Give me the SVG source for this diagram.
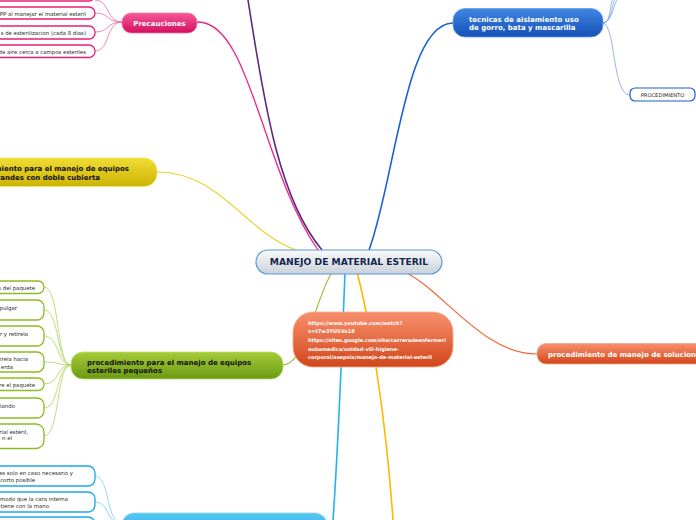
<svg xmlns="http://www.w3.org/2000/svg" width="696" height="520" viewBox="0 0 696 520">
<defs>
<linearGradient id="gCenter" x1="0" y1="0" x2="0" y2="1"><stop offset="0" stop-color="#fafbfc"/><stop offset="1" stop-color="#c9d1da"/></linearGradient>
<linearGradient id="gPink" x1="0" y1="0" x2="0" y2="1"><stop offset="0" stop-color="#f4599a"/><stop offset="1" stop-color="#d40f5e"/></linearGradient>
<linearGradient id="gBlue" x1="0" y1="0" x2="0" y2="1"><stop offset="0" stop-color="#3f86e4"/><stop offset="1" stop-color="#1550b6"/></linearGradient>
<linearGradient id="gYellow" x1="0" y1="0" x2="0" y2="1"><stop offset="0" stop-color="#f2dc34"/><stop offset="1" stop-color="#ccb404"/></linearGradient>
<linearGradient id="gGreen" x1="0" y1="0" x2="0" y2="1"><stop offset="0" stop-color="#a6cc38"/><stop offset="1" stop-color="#6a9a12"/></linearGradient>
<linearGradient id="gOrange" x1="0" y1="0" x2="0" y2="1"><stop offset="0" stop-color="#f8906e"/><stop offset="1" stop-color="#d2461a"/></linearGradient>
<linearGradient id="gCyan" x1="0" y1="0" x2="0" y2="1"><stop offset="0" stop-color="#58c6f4"/><stop offset="1" stop-color="#22a8e6"/></linearGradient>
</defs>
<style>
.t{font-family:"DejaVu Sans",Verdana,sans-serif}
.b{font-weight:bold}
.w{fill:#ffffff}
.k{fill:#111111}
.s{font-size:5.4px;fill:#2a2a2a}
.c{fill:none}
.leaf{fill:#ffffff;stroke-width:1.3}
</style>
<rect width="696" height="520" fill="#ffffff"/>
<g id="connectors" class="c">
<path d="M248,0 C265,110 280,200 322,250" stroke="#5b2a82" stroke-width="1.6"/>
<path d="M197,22 C250,20 262,170 318,250" stroke="#f02280" stroke-width="1.3"/>
<path d="M157,172 C220,172 245,232 296,250" stroke="#e8d224" stroke-width="1.1"/>
<path d="M369,250 C395,180 405,23 453,23" stroke="#1a62d4" stroke-width="1.6"/>
<path d="M332,272 C315,300 305,365 283,365" stroke="#92c232" stroke-width="1.1"/>
<path d="M345,272 C342,350 338,450 333,520" stroke="#22b2f0" stroke-width="1.6"/>
<path d="M357,272 C372,330 386,420 393,520" stroke="#ffb800" stroke-width="1.6"/>
<path d="M400,270 C440,285 480,354 537,354" stroke="#f06232" stroke-width="1.1"/>
<g stroke="#f56aa6" stroke-width="0.8">
<path d="M122,22 C106,22 110,0 95,0"/>
<path d="M122,22 C106,22 110,13 95,13"/>
<path d="M122,22 C106,22 110,32 95,32"/>
<path d="M122,22 C106,22 110,51 95,51"/>
</g>
<g stroke="#aed45a" stroke-width="0.8">
<path d="M71,365 C56,365 60,287 44,287"/>
<path d="M71,365 C56,365 60,310 44,310"/>
<path d="M71,365 C56,365 60,336 44,336"/>
<path d="M71,365 C56,365 60,362 44,362"/>
<path d="M71,365 C56,365 60,384 44,384"/>
<path d="M71,365 C56,365 60,408 44,408"/>
<path d="M71,365 C56,365 60,436 44,436"/>
</g>
<g stroke="#7ccdf2" stroke-width="0.8">
<path d="M122,524 C106,524 110,476 95,476"/>
<path d="M122,524 C106,524 110,502 95,502"/>
<path d="M122,524 C106,524 110,522 95,522"/>
</g>
<g stroke="#6c98e4" stroke-width="0.7">
<path d="M603,23 C612,23 609,0 615,-6"/>
<path d="M603,23 C613,22 611,0 618,-6"/>
<path d="M603,23 C614,21 613,0 621,-6"/>
<path d="M603,23 C616,26 612,95 630,95"/>
</g>
</g>
<g id="center">
<rect x="256" y="250" width="186" height="24" rx="12" fill="url(#gCenter)" stroke="#5a9ad8" stroke-width="1.2"/>
<text x="349" y="265.3" text-anchor="middle" class="t b" font-size="9.2" fill="#17284e">MANEJO DE MATERIAL ESTERIL</text>
</g>
<g id="precauciones">
<rect x="122" y="13" width="75" height="20" rx="9" fill="url(#gPink)" stroke="#f27aaa" stroke-width="0.8"/>
<text x="159.5" y="25.5" text-anchor="middle" class="t b w" font-size="7">Precauciones</text>
</g>
<g id="prec-1"><rect x="-20" y="-12" width="115" height="13" rx="6" class="leaf" stroke="#e8207a"/></g>
<g id="prec-2"><rect x="-20" y="7" width="115" height="12" rx="6" class="leaf" stroke="#e8207a"/><text x="86" y="15.5" text-anchor="end" class="t s">EPP al manejar el material esteril</text></g>
<g id="prec-3"><rect x="-20" y="26" width="115" height="13" rx="6" class="leaf" stroke="#e8207a"/><text x="86" y="34.5" text-anchor="end" class="t s">s de esterilizacion (cada 8 dias)</text></g>
<g id="prec-4"><rect x="-20" y="45" width="115" height="12.5" rx="6" class="leaf" stroke="#e8207a"/><text x="86" y="53.5" text-anchor="end" class="t s">de aire cerca a campos esteriles</text></g>
<g id="tecnicas">
<rect x="453" y="8.5" width="150" height="28.5" rx="12" fill="url(#gBlue)" stroke="#6a9ee8" stroke-width="0.8"/>
<text class="t b w" font-size="7"><tspan x="469" y="21.5">tecnicas de aislamiento uso</tspan><tspan x="469" y="30">de gorro, bata y mascarilla</tspan></text>
</g>
<g id="procedimiento">
<rect x="630" y="88" width="65" height="13" rx="5" fill="#ffffff" stroke="#1a5fcc" stroke-width="1.2"/>
<text x="662.5" y="96.8" text-anchor="middle" class="t" font-size="5.2" fill="#222222">PROCEDIMIENTO</text>
</g>
<g id="grandes">
<rect x="-30" y="158" width="187" height="28.5" rx="13" fill="url(#gYellow)" stroke="#f0e060" stroke-width="0.8"/>
<text class="t b k" font-size="7" text-anchor="end"><tspan x="129" y="170.5">procedimiento para el manejo de equipos</tspan><tspan x="100" y="179.5">grandes con doble cubierta</tspan></text>
</g>
<g id="pequenos">
<rect x="71" y="352" width="212" height="27" rx="12" fill="url(#gGreen)" stroke="#bcdc70" stroke-width="0.8"/>
<text class="t b k" font-size="7"><tspan x="87" y="364.5">procedimiento para el manejo de equipos</tspan><tspan x="87" y="372.5">esteriles pequeños</tspan></text>
</g>
<g id="peq-1"><rect x="-20" y="281" width="64" height="12.5" rx="6" class="leaf" stroke="#8cbc22"/><text x="35" y="289.8" text-anchor="end" class="t s">s del paquete</text></g>
<g id="peq-2"><rect x="-20" y="300" width="64" height="20" rx="7" class="leaf" stroke="#8cbc22"/><text x="17" y="309.8" text-anchor="end" class="t s">pulgar</text></g>
<g id="peq-3"><rect x="-20" y="326" width="64" height="20" rx="7" class="leaf" stroke="#8cbc22"/><text x="28" y="335.8" text-anchor="end" class="t s">r y retírela</text></g>
<g id="peq-4"><rect x="-20" y="352" width="64" height="20" rx="7" class="leaf" stroke="#8cbc22"/><text class="t s" text-anchor="end"><tspan x="28" y="360.5">irela hacia</tspan><tspan x="13" y="368.5">erda</tspan></text></g>
<g id="peq-5"><rect x="-20" y="378" width="64" height="12.5" rx="6" class="leaf" stroke="#8cbc22"/><text x="35" y="386.5" text-anchor="end" class="t s">re el paquete</text></g>
<g id="peq-6"><rect x="-20" y="398" width="64" height="20" rx="7" class="leaf" stroke="#8cbc22"/><text x="15" y="407.5" text-anchor="end" class="t s">lando</text></g>
<g id="peq-7"><rect x="-20" y="424" width="64" height="24.5" rx="8" class="leaf" stroke="#8cbc22"/><text class="t s" text-anchor="end"><tspan x="28" y="433.5">rial estéril,</tspan><tspan x="12" y="440">n el</tspan></text></g>
<g id="link">
<rect x="293" y="312" width="160" height="55" rx="20" fill="url(#gOrange)" stroke="#f8a88c" stroke-width="0.8"/>
<text class="t b w" font-size="5"><tspan x="308" y="324.5">https://www.youtube.com/watch?</tspan><tspan x="308" y="333.2">v=t7w3YUSVa18</tspan><tspan x="308" y="341.8">https://sites.google.com/site/carreradeenfermeri</tspan><tspan x="308" y="350.5">aubamedica/unidad-viii-higiene-</tspan><tspan x="308" y="359.2">corporal/asepsia/manejo-de-material-esteril</tspan></text>
</g>
<g id="soluciones">
<rect x="537" y="343.5" width="190" height="20.5" rx="9" fill="url(#gOrange)" stroke="#f8a88c" stroke-width="0.8"/>
<text x="548" y="356.5" class="t b w" font-size="7">procedimiento de manejo de soluciones</text>
</g>
<g id="cyan-main">
<rect x="122" y="513" width="205" height="28" rx="12" fill="url(#gCyan)" stroke="#8ad6f6" stroke-width="0.8"/>
</g>
<g id="cyan-1"><rect x="-20" y="466" width="115" height="20" rx="7" class="leaf" stroke="#1aa8ec"/><text class="t s" text-anchor="end"><tspan x="73" y="475">es solo en caso necesario y</tspan><tspan x="35" y="481.5">s corto posible</tspan></text></g>
<g id="cyan-2"><rect x="-20" y="492" width="115" height="20" rx="7" class="leaf" stroke="#1aa8ec"/><text class="t s" text-anchor="end"><tspan x="68" y="501">modo que la cara interna</tspan><tspan x="49" y="508">tiene con la mano</tspan></text></g>
<g id="cyan-3"><rect x="-20" y="517" width="115" height="20" rx="7" class="leaf" stroke="#1aa8ec"/></g>
</svg>
